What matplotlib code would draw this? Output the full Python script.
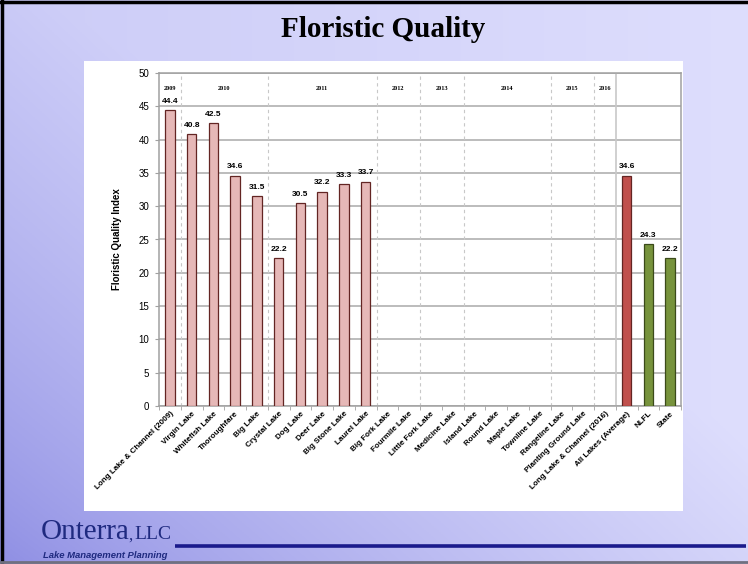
import numpy as np
import matplotlib
matplotlib.use("Agg")
import matplotlib.pyplot as plt
from matplotlib.patches import Rectangle

# ---- data ----
lakes = [
    "Long Lake & Channel (2009)", "Virgin Lake", "Whitefish Lake", "Thoroughfare",
    "Big Lake", "Crystal Lake", "Dog Lake", "Deer Lake", "Big Stone Lake",
    "Laurel Lake", "Big Fork Lake", "Fourmile Lake", "Little Fork Lake",
    "Medicine Lake", "Island Lake", "Round Lake", "Maple Lake", "Townline Lake",
    "Rangeline Lake", "Planting Ground Lake", "Long Lake & Channel (2016)",
    "All Lakes (Average)", "NLFL", "State",
]
fqi = [44.4, 40.8, 42.5, 34.6, 31.5, 22.2, 30.5, 32.2, 33.3, 33.7,
       None, None, None, None, None, None, None, None, None, None, None,
       34.6, 24.3, 22.2]
bar_kind = ["lake"] * 21 + ["average", "region", "region"]

years = ["2009", "2010", "2011", "2012", "2013", "2014", "2015", "2016"]
year_sizes = [1, 4, 5, 2, 2, 4, 2, 1]

y_ticks = [0, 5, 10, 15, 20, 25, 30, 35, 40, 45, 50]

face = {"lake": "#E6B8B7", "average": "#C0504D", "region": "#77933C"}
edge = {"lake": "#632523", "average": "#632523", "region": "#3B4A1A"}

# ---- figure and slide background ----
fig = plt.figure(figsize=(7.48, 5.64), dpi=100)

bg = fig.add_axes([0, 0, 1, 1], zorder=-10)
xx, yy = np.meshgrid(np.linspace(0, 1, 300), np.linspace(0, 1, 300))
w = np.clip(0.75 * xx + 0.9 * yy + 0.05, 0, 1) ** 0.65
dark = np.array([0.52, 0.52, 0.88])
light = np.array([0.80, 0.80, 0.97])
img = dark[None, None, :] * (1 - w[..., None]) + light[None, None, :] * w[..., None]
# slightly lighter toward the right edge
img = img + (0.07 * xx)[..., None] * np.array([1, 1, 0.3])[None, None, :]
img = np.clip(img, 0, 1)
bg.imshow(img, extent=[0, 1, 0, 1], origin="lower", aspect="auto")
bg.set_xlim(0, 1)
bg.set_ylim(0, 1)
bg.axis("off")
# slide frame
bg.plot([0.003, 0.003], [0, 1], color="black", lw=2.5)
bg.plot([0, 1], [0.997, 0.997], color="black", lw=2.5)
bg.plot([0, 1], [0.004, 0.004], color="#707080", lw=2)

# white chart panel
bg.add_patch(Rectangle((84 / 748, 1 - 511 / 564), 599 / 748, 450 / 564,
                       facecolor="white", edgecolor="none"))

# title
fig.text(0.512, 0.947, "Floristic Quality", ha="center", va="center",
         fontsize=21, fontweight="bold", family="Liberation Serif", color="black")

# footer
fig.text(0.055, 0.044, "Onterra", ha="left", va="baseline", fontsize=21,
         family="Liberation Serif", color="#1F2A80")
fig.text(0.172, 0.044, ",", ha="left", va="baseline", fontsize=12,
         family="Liberation Serif", color="#1F2A80")
fig.text(0.180, 0.044, "LLC", ha="left", va="baseline", fontsize=14,
         family="Liberation Serif", color="#1F2A80")
fig.text(0.057, 0.011, "Lake Management Planning", ha="left", va="baseline",
         fontsize=6.8, fontweight="bold", style="italic",
         family="Liberation Sans", color="#1F2A80")
bg.plot([175 / 748, 746 / 748], [1 - 546 / 564] * 2, color="#1A1A8C", lw=2.6,
        solid_capstyle="butt")

# ---- chart ----
ax = fig.add_axes([159 / 748, 1 - 406 / 564, 522 / 748, 333 / 564])
n = len(lakes)
x = np.arange(n)
for i, (v, k) in enumerate(zip(fqi, bar_kind)):
    if v is None:
        continue
    ax.bar(i, v, width=0.44, color=face[k], edgecolor=edge[k], linewidth=0.9,
           zorder=3)
    ax.text(i, v + 0.8, f"{v:.1f}", ha="center", va="bottom", fontsize=6,
            fontweight="bold", family="Liberation Sans", zorder=4)

ax.set_xlim(-0.5, n - 0.5)
ax.set_ylim(0, 50)
ax.set_yticks(y_ticks)
ax.set_yticklabels([str(v) for v in y_ticks], fontsize=7,
                   family="Liberation Sans")
ax.yaxis.grid(True, color="#B0B0B0", lw=1.2, zorder=1)
ax.set_axisbelow(True)

ax.set_xticks(x)
ax.set_xticklabels(lakes, rotation=45, ha="right", rotation_mode="anchor",
                   fontsize=5.8, fontweight="bold", family="Liberation Sans")
ax.tick_params(axis="x", length=0, pad=3)
ax.set_xticks(np.arange(-0.5, n, 1), minor=True)
ax.tick_params(axis="x", which="minor", length=3, color="#A0A0A0")
ax.tick_params(axis="y", length=3, color="#A0A0A0", pad=4)

for s in ["left", "bottom", "right", "top"]:
    ax.spines[s].set_color("#A0A0A0")
    ax.spines[s].set_linewidth(1.1)

ax.set_ylabel("Floristic Quality Index", fontsize=7, fontweight="bold",
              family="Liberation Sans", labelpad=12)

# year group dividers and labels
start = 0
for yr, size in zip(years, year_sizes):
    end = start + size
    ax.text((start + end - 1) / 2, 47.6, yr, ha="center", va="center",
            fontsize=4.5, fontweight="bold", family="Liberation Serif")
    if yr == years[-1]:
        ax.axvline(end - 0.5, color="#C8C8C8", lw=1.2, zorder=2)
    else:
        ax.axvline(end - 0.5, color="#C8C8C8", lw=0.8, ls=(0, (3, 3)), zorder=2)
    start = end

fig.savefig("out.png", dpi=100)
